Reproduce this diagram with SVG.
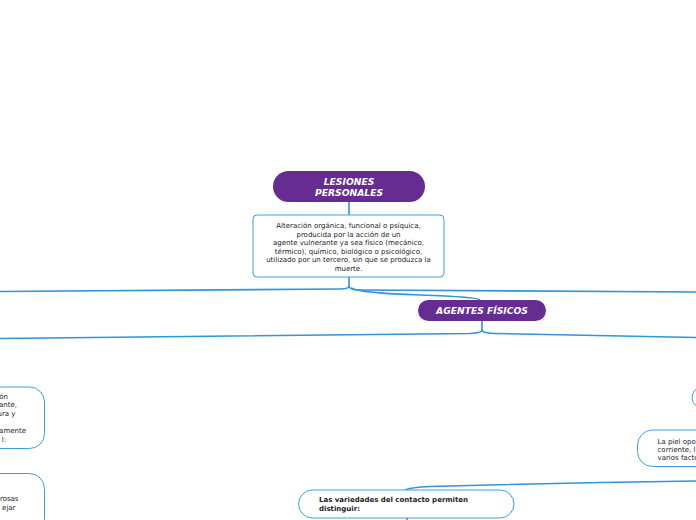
<svg xmlns="http://www.w3.org/2000/svg" width="696" height="520" viewBox="0 0 696 520">
<style>
.conn{fill:none;stroke:#2f95dc;stroke-width:1.6}
.main{fill:#672c91}
.title{font-family:"DejaVu Sans",Verdana,sans-serif;font-weight:bold;font-style:italic;font-size:9.2px;fill:#ffffff;text-anchor:middle}
.box{fill:#ffffff;stroke:#3b9fe2;stroke-width:1}
.txt{font-family:"DejaVu Sans",Verdana,sans-serif;font-size:7px;fill:#222222}
.c{text-anchor:middle}
.e{text-anchor:end}
.b{font-weight:bold}
</style>
<rect width="696" height="520" fill="#ffffff"/>
<g id="connectors">
<path class="conn" d="M349,201 V215"/>
<path class="conn" d="M349,277 V286 Q349,289 340,289 L0,291.5"/>
<path class="conn" d="M349,286 Q349,290 360,290 L696,292"/>
<path class="conn" d="M351,288 Q360,293 420,295 Q478,297 480,300"/>
<path class="conn" d="M482,321 V330 Q482,333 470,333.5 L0,338.5"/>
<path class="conn" d="M482,330 Q482,333 494,333.5 L696,337.5"/>
<path class="conn" d="M696,481 Q560,483 430,486.5 Q410,487.5 405,490"/>
<path class="conn" d="M407,518 V520"/>
</g>
<g id="lesiones-personales">
<rect class="main" x="273" y="171" width="152" height="31" rx="15.5"/>
<text class="title" x="349" y="184.5">LESIONES</text>
<text class="title" x="349" y="195.5">PERSONALES</text>
</g>
<g id="definicion">
<rect class="box" x="253" y="215" width="191" height="62" rx="4"/>
<text class="txt c" x="348.5" y="228">Alteración orgánica, funcional o psíquica,</text>
<text class="txt c" x="348.5" y="236.5">producida por la acción de un</text>
<text class="txt c" x="348.5" y="245">agente vulnerante ya sea físico (mecánico,</text>
<text class="txt c" x="348.5" y="253.5">térmico), químico, biológico o psicológico,</text>
<text class="txt c" x="348.5" y="262">utilizado por un tercero, sin que se produzca la</text>
<text class="txt c" x="348.5" y="270.5">muerte.</text>
</g>
<g id="agentes-fisicos">
<rect class="main" x="418" y="300" width="128" height="21" rx="10.5"/>
<text class="title" x="482" y="314">AGENTES FÍSICOS</text>
</g>
<g id="left-box-1">
<rect class="box" x="-60" y="387" width="104.5" height="61.5" rx="15"/>
<text class="txt e" x="8" y="398.5">ón</text>
<text class="txt e" x="17" y="407">ante,</text>
<text class="txt e" x="15.5" y="415.5">ura y</text>
<text class="txt e" x="26" y="433">amente</text>
<text class="txt e" x="6" y="441.5">l:</text>
</g>
<g id="left-box-2">
<rect class="box" x="-60" y="473.5" width="104.5" height="60" rx="15"/>
<text class="txt e" x="18.5" y="501">rosas</text>
<text class="txt e" x="15.5" y="509.5">ejar</text>
</g>
<g id="right-box-1">
<rect class="box" x="692" y="387" width="60" height="21" rx="10.5"/>
</g>
<g id="right-box-2">
<rect class="box" x="637.5" y="430" width="100" height="36.5" rx="15"/>
<text class="txt" x="657.5" y="443.5">La piel opo</text>
<text class="txt" x="657.5" y="451.5">corriente, l</text>
<text class="txt" x="657.5" y="459.5">varios facto</text>
</g>
<g id="variedades">
<rect class="box" x="298.5" y="490" width="215.5" height="28" rx="14"/>
<text class="txt b" x="319" y="502">Las variedades del contacto permiten</text>
<text class="txt b" x="319" y="510.5">distinguir:</text>
</g>
</svg>
